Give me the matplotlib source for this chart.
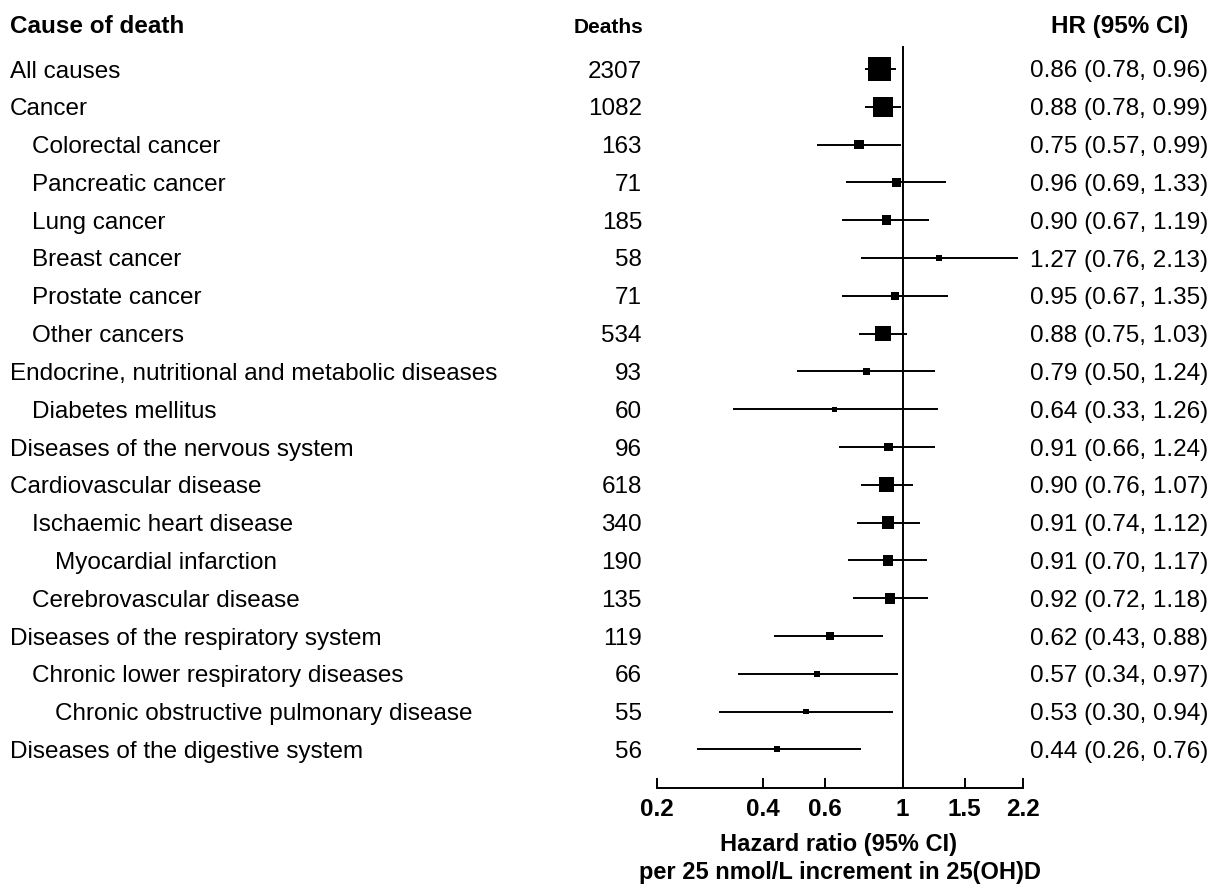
import numpy as np
import matplotlib
matplotlib.use('Agg')
import matplotlib.pyplot as plt
import matplotlib.transforms as mtransforms
from matplotlib.ticker import NullLocator

causes = [
    'All causes', 'Cancer', 'Colorectal cancer', 'Pancreatic cancer', 'Lung cancer',
    'Breast cancer', 'Prostate cancer', 'Other cancers',
    'Endocrine, nutritional and metabolic diseases', 'Diabetes mellitus',
    'Diseases of the nervous system', 'Cardiovascular disease',
    'Ischaemic heart disease', 'Myocardial infarction', 'Cerebrovascular disease',
    'Diseases of the respiratory system', 'Chronic lower respiratory diseases',
    'Chronic obstructive pulmonary disease', 'Diseases of the digestive system',
]
levels = [0, 0, 1, 1, 1, 1, 1, 1, 0, 1, 0, 0, 1, 2, 1, 0, 1, 2, 0]
deaths = [2307, 1082, 163, 71, 185, 58, 71, 534, 93, 60, 96, 618, 340, 190, 135, 119, 66, 55, 56]
hr = [0.86, 0.88, 0.75, 0.96, 0.90, 1.27, 0.95, 0.88, 0.79, 0.64, 0.91, 0.90, 0.91, 0.91, 0.92,
      0.62, 0.57, 0.53, 0.44]
ci_low = [0.78, 0.78, 0.57, 0.69, 0.67, 0.76, 0.67, 0.75, 0.50, 0.33, 0.66, 0.76, 0.74, 0.70, 0.72,
          0.43, 0.34, 0.30, 0.26]
ci_high = [0.96, 0.99, 0.99, 1.33, 1.19, 2.13, 1.35, 1.03, 1.24, 1.26, 1.24, 1.07, 1.12, 1.17, 1.18,
           0.88, 0.97, 0.94, 0.76]
x_ticks = [0.2, 0.4, 0.6, 1, 1.5, 2.2]
x_tick_labels = ['0.2', '0.4', '0.6', '1', '1.5', '2.2']

plt.rcParams['font.family'] = ['Liberation Sans', 'DejaVu Sans']

W, H = 1220, 888
fig = plt.figure(figsize=(W / 100, H / 100), dpi=100)


def fx(px):
    return px / W


def fy(py):
    return 1 - py / H


# pixel layout of the plot panel
row0, step = 69, 37.8
ax_top, ax_bot = 46, 788
ax = fig.add_axes([fx(657), fy(ax_bot), fx(1023) - fx(657), (ax_bot - ax_top) / H])
ax.set_xscale('log')
ax.set_xlim(0.2, 2.2)
ax.set_ylim((ax_bot - row0) / step, (ax_top - row0) / step)

y = np.arange(len(causes))
lo = np.array(ci_low)
hi = np.array(ci_high)

# box size from precision of the estimate
se = (np.log(hi) - np.log(lo)) / (2 * 1.96)
side_px = 1.13 / se + 1.7
sizes = (side_px * 0.72) ** 2

ax.hlines(y, lo, hi, color='black', lw=1.4)
ax.scatter(hr, y, marker='s', s=sizes, c='black', linewidths=0, zorder=3)
ax.axvline(1, color='black', lw=1.4)

for side in ['left', 'right', 'top']:
    ax.spines[side].set_visible(False)
ax.spines['bottom'].set_linewidth(1.4)
ax.set_yticks([])
ax.set_xticks(x_ticks, x_tick_labels, fontweight='bold')
ax.xaxis.set_minor_locator(NullLocator())
ax.tick_params(axis='x', direction='in', length=7, width=1.4, pad=7, labelsize=17.5)

# text columns
trans = mtransforms.blended_transform_factory(fig.transFigure, ax.transData)
base = 8.5 / step
head_y = (33 - row0) / step
fs = 17.5

ax.text(fx(10), head_y, 'Cause of death', transform=trans, fontsize=fs, fontweight='bold',
        ha='left', va='baseline', clip_on=False)
ax.text(fx(643), head_y, 'Deaths', transform=trans, fontsize=15, fontweight='bold',
        ha='right', va='baseline', clip_on=False)
ax.text(fx(1120), head_y, 'HR (95% CI)', transform=trans, fontsize=fs, fontweight='bold',
        ha='center', va='baseline', clip_on=False)

indent = [10, 32, 55]
for i in range(len(causes)):
    ax.text(fx(indent[levels[i]]), i + base, causes[i], transform=trans, fontsize=fs,
            ha='left', va='baseline', clip_on=False)
    ax.text(fx(642), i + base, str(deaths[i]), transform=trans, fontsize=fs,
            ha='right', va='baseline', clip_on=False)
    label = '%.2f (%.2f, %.2f)' % (hr[i], ci_low[i], ci_high[i])
    ax.text(fx(1208), i + base, label, transform=trans, fontsize=fs,
            ha='right', va='baseline', clip_on=False)

fig.text(fx(838), fy(851), 'Hazard ratio (95% CI)', fontsize=17, fontweight='bold',
         ha='center', va='baseline')
fig.text(fx(840), fy(879), 'per 25 nmol/L increment in 25(OH)D', fontsize=17, fontweight='bold',
         ha='center', va='baseline')

fig.savefig('out.png', dpi=100)
